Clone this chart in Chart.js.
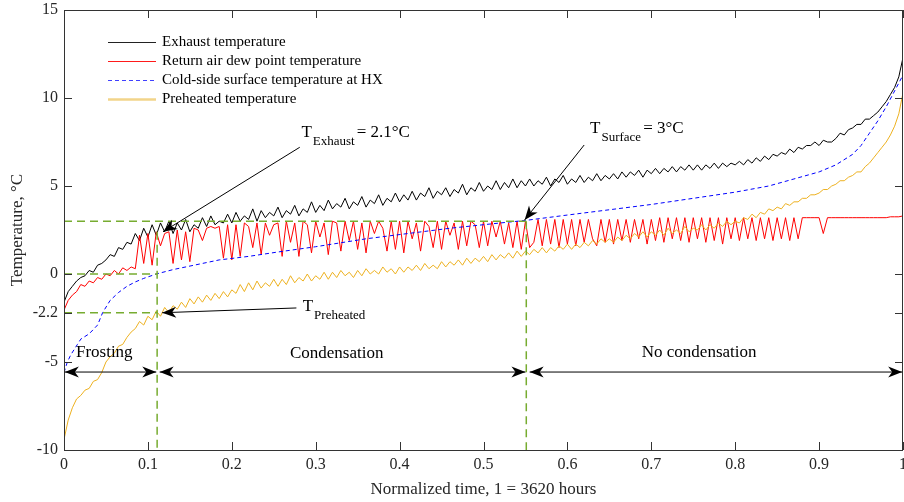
<!DOCTYPE html>
<html><head><meta charset="utf-8">
<script src="https://cdn.jsdelivr.net/npm/chart.js@4.4.1/dist/chart.umd.min.js"></script>
<style>html,body{margin:0;padding:0;background:#fff;overflow:hidden}canvas{display:block}</style>
</head><body>
<canvas id="c" width="904" height="502"></canvas>
<script>
// ---------- data ----------
const timeStep = 0.005; // sample spacing of the three noisy series (normalized time)
const exhaustTemp = [
 -1.6,-1.0,-0.7,-0.4,-0.2,-0.1,0.2,0.1,0.5,0.6,
 0.8,1.1,1.0,1.5,1.4,1.8,1.7,2.3,1.9,2.6,
 2.1,2.8,2.2,2.9,2.4,3.0,2.3,2.9,2.5,3.1,
 2.4,2.8,2.6,3.2,2.7,3.3,2.8,3.0,2.9,3.4,
 2.9,3.5,3.0,3.3,3.1,3.7,3.0,3.6,3.2,3.5,
 3.3,3.8,3.2,3.6,3.4,3.9,3.3,3.7,3.5,4.1,
 3.5,3.9,3.6,4.2,3.7,4.0,3.8,4.3,3.7,4.1,
 3.9,4.4,3.8,4.2,4.0,4.5,3.9,4.3,4.1,4.6,
 4.1,4.5,4.2,4.7,4.2,4.6,4.4,4.9,4.3,4.7,
 4.5,4.9,4.4,4.8,4.6,5.1,4.5,4.9,4.7,5.2,
 4.7,5.0,4.8,5.3,4.8,5.2,4.9,5.4,4.9,5.3,
 5.0,5.4,5.0,5.3,5.1,5.5,5.0,5.4,5.2,5.6,
 5.1,5.4,5.2,5.6,5.2,5.5,5.3,5.7,5.3,5.6,
 5.4,5.7,5.4,5.8,5.5,5.8,5.6,5.9,5.5,5.9,
 5.7,6.0,5.7,6.0,5.8,6.1,5.8,6.1,5.9,6.2,
 5.9,6.2,5.9,6.2,6.0,6.3,6.0,6.3,6.1,6.3,
 6.2,6.4,6.2,6.5,6.3,6.6,6.4,6.7,6.5,6.8,
 6.7,6.9,6.8,7.1,6.9,7.2,7.1,7.3,7.3,7.5,
 7.3,7.6,7.5,7.5,7.7,8.0,7.9,8.2,8.3,8.5,
 8.5,8.8,8.8,9.0,9.2,9.5,9.8,10.2,10.6,11.2,
 12.3];
const dewPointTemp = [
 -2.05,-1.5,-1.2,-1.0,-0.6,-0.7,-0.4,-0.5,-0.2,-0.3,
 0.0,-0.1,0.2,0.0,0.35,0.2,0.4,0.3,2.2,0.6,
 2.3,0.5,2.4,1.6,2.3,2.4,0.6,2.5,0.8,2.4,
 0.7,2.6,2.5,1.9,2.6,2.7,2.6,2.7,0.9,2.8,
 0.8,2.8,1.0,2.9,2.7,1.5,2.9,1.1,2.9,2.2,
 2.8,2.9,1.0,3.0,1.8,2.9,1.0,3.0,2.8,1.2,
 3.0,2.1,2.9,1.1,3.0,2.9,1.3,3.0,1.9,3.0,
 1.4,2.9,1.2,3.0,2.3,3.0,2.6,1.3,3.0,1.4,
 3.0,1.2,3.0,2.0,2.9,1.3,3.0,2.7,1.5,3.0,
 1.4,3.0,2.2,2.9,1.4,3.0,1.6,3.0,2.8,1.5,
 3.0,1.6,3.0,2.1,3.0,1.7,2.9,1.5,3.0,1.4,
 3.0,1.5,1.8,3.1,1.6,3.1,1.7,3.1,1.5,3.1,
 1.7,3.1,1.6,3.1,1.8,3.1,2.0,1.6,3.1,1.8,
 3.1,1.7,3.1,1.9,3.1,1.8,3.1,2.0,3.1,1.7,
 3.1,1.9,3.2,1.8,3.2,2.0,3.2,1.9,3.2,1.8,
 3.2,2.0,3.2,1.8,3.2,1.9,3.2,1.7,3.2,2.0,
 3.2,1.9,3.2,2.0,3.2,1.9,3.2,2.0,3.2,1.9,
 3.2,2.0,3.2,1.9,3.2,2.0,3.2,3.2,3.2,3.2,
 3.2,2.3,3.2,3.2,3.2,3.2,3.2,3.2,3.2,3.2,
 3.2,3.2,3.2,3.2,3.2,3.2,3.2,3.25,3.25,3.25,
 3.3];
const preheatedTemp = [
 -9.4,-8.3,-7.6,-7.1,-6.9,-6.6,-6.5,-6.1,-6.0,-5.6,
 -5.0,-4.7,-4.5,-4.1,-4.0,-3.6,-3.3,-3.1,-2.7,-2.9,
 -2.4,-2.6,-2.1,-2.4,-1.9,-2.2,-1.8,-2.0,-1.6,-1.9,
 -1.4,-1.7,-1.3,-1.6,-1.2,-1.5,-1.1,-1.4,-1.0,-1.3,
 -0.9,-1.1,-0.6,-1.0,-0.5,-0.9,-0.4,-0.8,-0.5,-0.7,
 -0.3,-0.7,-0.3,-0.6,-0.1,-0.5,-0.2,-0.4,0.0,-0.4,
 -0.1,-0.3,0.1,-0.3,0.1,-0.2,0.2,-0.1,0.1,-0.2,
 0.2,-0.1,0.3,0.0,0.2,0.0,0.4,0.1,0.3,0.0,
 0.4,0.1,0.4,0.2,0.5,0.2,0.6,0.3,0.5,0.3,
 0.7,0.4,0.7,0.5,0.8,0.5,0.9,0.6,0.9,0.7,
 1.0,0.7,1.1,0.8,1.1,0.9,1.2,0.9,1.3,1.0,
 1.3,1.1,1.4,1.2,1.5,1.2,1.5,1.3,1.6,1.4,
 1.7,1.4,1.7,1.5,1.8,1.6,1.9,1.7,2.0,1.8,
 2.0,1.8,2.1,1.9,2.2,2.0,2.3,2.1,2.4,2.1,
 2.4,2.2,2.5,2.2,2.6,2.3,2.5,2.3,2.7,2.4,
 2.6,2.5,2.8,2.5,2.8,2.6,2.9,2.7,3.0,2.8,
 3.0,2.9,3.2,3.1,3.4,3.2,3.5,3.4,3.7,3.6,
 3.8,3.7,4.0,3.9,4.1,4.1,4.3,4.3,4.5,4.5,
 4.6,4.8,4.8,5.0,5.1,5.3,5.3,5.5,5.6,5.8,
 5.8,6.1,6.3,6.6,6.9,7.2,7.5,7.9,8.4,9.1,
 10.3];
const surfaceTime = [0,0.004,0.008,0.012,0.016,0.02,0.03,0.04,0.046,0.055,0.065,0.075,0.085,0.095,0.11,0.13,0.155,0.185,0.22,0.255,0.3,0.36,0.41,0.46,0.51,0.551,0.6,0.65,0.7,0.75,0.8,0.84,0.87,0.9,0.92,0.94,0.95,0.96,0.97,0.98,0.99,1.0];
const surfaceTemp = [-5.6,-5.0,-4.6,-4.3,-4.0,-3.7,-3.4,-2.9,-2.2,-1.5,-1.05,-0.7,-0.45,-0.25,0.0,0.25,0.5,0.8,1.0,1.25,1.55,2.0,2.3,2.6,2.85,3.05,3.35,3.65,3.95,4.3,4.65,5.0,5.4,5.8,6.2,6.8,7.3,8.0,8.7,9.5,10.4,11.3];
const seriesNames = ['Exhaust temperature','Return air dew point temperature','Cold-side surface temperature at HX','Preheated temperature'];
const xTickValues = [0,0.1,0.2,0.3,0.4,0.5,0.6,0.7,0.8,0.9,1];
const yTickValues = [-10,-5,-2.2,0,5,10,15];
// phase boundaries (normalized time) and reference temperatures
const frostEnd = 0.111, condensationEnd = 0.551;
const tExhaustRef = 3, tZeroRef = 0, tPreheatedRef = -2.2;
const phaseNames = ['Frosting','Condensation','No condensation'];

// ---------- chart ----------
const FAMILY = "'Liberation Serif','DejaVu Serif',serif";
Chart.defaults.font.family = FAMILY;
Chart.defaults.color = '#262626';

const seriesColors = ['#000000', '#FF0000', '#0000FF', '#EDB120'];
const legendStyles = [
  {color: '#222222', width: 1, dash: []},
  {color: '#FF1A1A', width: 1.2, dash: []},
  {color: '#4040FF', width: 1, dash: [4, 3]},
  {color: '#F2D48A', width: 2.5, dash: []}
];

const toPts = (arr) => arr.map((v, i) => ({x: i * timeStep, y: v}));
const surfacePts = surfaceTemp.map((v, i) => ({x: surfaceTime[i], y: v}));

function arrowHead(ctx, fx, fy, tx, ty) {
  const L = 14, H = 5.5, N = 4;
  const a = Math.atan2(ty - fy, tx - fx), ux = Math.cos(a), uy = Math.sin(a);
  const px = -uy, py = ux;
  const bx = tx - ux * L, by = ty - uy * L;
  ctx.beginPath();
  ctx.moveTo(tx, ty);
  ctx.lineTo(bx + px * H, by + py * H);
  ctx.lineTo(tx - ux * (L - N), ty - uy * (L - N));
  ctx.lineTo(bx - px * H, by - py * H);
  ctx.closePath();
  ctx.fill();
}
function arrow(ctx, fx, fy, tx, ty, both) {
  ctx.beginPath(); ctx.moveTo(fx, fy); ctx.lineTo(tx, ty); ctx.stroke();
  arrowHead(ctx, fx, fy, tx, ty);
  if (both) arrowHead(ctx, tx, ty, fx, fy);
}
function subLabel(ctx, x, y, main, sub, rest) {
  ctx.textAlign = 'left'; ctx.textBaseline = 'alphabetic';
  ctx.font = '17px ' + FAMILY; ctx.fillText(main, x, y);
  const w = ctx.measureText(main).width;
  ctx.font = '13px ' + FAMILY; ctx.fillText(sub, x + w + 1, y + 8);
  const w2 = ctx.measureText(sub).width;
  if (rest) { ctx.font = '17px ' + FAMILY; ctx.fillText(rest, x + w + w2 + 3, y); }
}

const overlay = {
  id: 'overlay',
  afterDatasetsDraw(chart) {
    const {ctx, chartArea: a, scales: {x, y}} = chart;
    const X = v => x.getPixelForValue(v), Y = v => y.getPixelForValue(v);
    ctx.save();
    // green guide lines
    ctx.strokeStyle = '#77AC30'; ctx.lineWidth = 1.5; ctx.setLineDash([8, 5]);
    const guides = [
      [0, tExhaustRef, condensationEnd, tExhaustRef],
      [0, tZeroRef, frostEnd, tZeroRef],
      [0, tPreheatedRef, frostEnd, tPreheatedRef],
      [frostEnd, 2.4, frostEnd, -10],
      [condensationEnd, tExhaustRef, condensationEnd, -10]
    ];
    guides.forEach(g => { ctx.beginPath(); ctx.moveTo(X(g[0]), Y(g[1])); ctx.lineTo(X(g[2]), Y(g[3])); ctx.stroke(); });
    ctx.setLineDash([]);
    // box + inward ticks
    ctx.strokeStyle = '#333'; ctx.lineWidth = 1;
    ctx.strokeRect(Math.round(a.left) + 0.5, Math.round(a.top) + 0.5, Math.round(a.right - a.left) - 1, Math.round(a.bottom - a.top));
    ctx.beginPath();
    xTickValues.forEach(v => {
      const p = Math.round(X(v)) + 0.5;
      ctx.moveTo(p, a.bottom); ctx.lineTo(p, a.bottom - 8);
      ctx.moveTo(p, a.top); ctx.lineTo(p, a.top + 8);
    });
    yTickValues.forEach(v => {
      const p = Math.round(Y(v)) + 0.5;
      ctx.moveTo(a.left, p); ctx.lineTo(a.left + 8, p);
      ctx.moveTo(a.right, p); ctx.lineTo(a.right - 8, p);
    });
    ctx.stroke();
    // arrows
    ctx.strokeStyle = '#000'; ctx.fillStyle = '#000'; ctx.lineWidth = 1;
    arrow(ctx, X(0.281), Y(7.2), X(0.118), Y(2.4));
    arrow(ctx, X(0.620), Y(7.33), X(0.549), Y(3.07));
    arrow(ctx, X(0.277), Y(-1.93), X(0.117), Y(-2.2));
    const ya = Y(-5.57);
    arrow(ctx, X(0.001), ya, X(0.110), ya, true);
    arrow(ctx, X(0.114), ya, X(0.550), ya, true);
    arrow(ctx, X(0.555), ya, X(0.999), ya, true);
    // annotation text
    ctx.fillStyle = '#000';
    subLabel(ctx, X(0.283), Y(7.78), 'T', 'Exhaust', '= 2.1°C');
    subLabel(ctx, X(0.627), Y(8.01), 'T', 'Surface', '= 3°C');
    subLabel(ctx, X(0.2845), Y(-2.1), 'T', 'Preheated', '');
    ctx.font = '17px ' + FAMILY; ctx.textAlign = 'center'; ctx.textBaseline = 'alphabetic';
    ctx.fillText(phaseNames[0], X(0.048), Y(-4.72));
    ctx.fillText(phaseNames[1], X(0.325), Y(-4.77));
    ctx.fillText(phaseNames[2], X(0.757), Y(-4.72));
    // legend
    ctx.font = '15px ' + FAMILY; ctx.textAlign = 'left'; ctx.textBaseline = 'middle';
    seriesNames.forEach((name, i) => {
      const st = legendStyles[i];
      const ly = Math.round(a.top + 32 + i * 19) + 0.5;
      ctx.save();
      ctx.strokeStyle = st.color;
      ctx.lineWidth = st.width;
      ctx.setLineDash(st.dash);
      ctx.beginPath(); ctx.moveTo(a.left + 44, ly); ctx.lineTo(a.left + 92, ly); ctx.stroke();
      ctx.restore();
      ctx.fillStyle = '#000';
      ctx.fillText(name, a.left + 98, ly);
    });
    ctx.restore();
  }
};

new Chart(document.getElementById('c'), {
  type: 'line',
  data: {
    datasets: [
      {label: seriesNames[0], data: toPts(exhaustTemp), borderColor: seriesColors[0], borderWidth: 1, order: 4},
      {label: seriesNames[1], data: toPts(dewPointTemp), borderColor: seriesColors[1], borderWidth: 1, order: 3},
      {label: seriesNames[2], data: surfacePts, borderColor: seriesColors[2], borderWidth: 1, borderDash: [4, 3], order: 2},
      {label: seriesNames[3], data: toPts(preheatedTemp), borderColor: seriesColors[3], borderWidth: 1, order: 1}
    ]
  },
  options: {
    responsive: false, animation: false, devicePixelRatio: 1,
    layout: {padding: {top: 10, right: 1, left: 0, bottom: 0}},
    plugins: {legend: {display: false}, tooltip: {enabled: false}},
    elements: {point: {radius: 0}, line: {tension: 0, borderWidth: 1, fill: false}},
    scales: {
      x: {
        type: 'linear', min: 0, max: 1,
        afterBuildTicks(s) { s.ticks = xTickValues.map(v => ({value: v})); },
        afterFit(s) { s.height = 52; s.paddingLeft = 0; s.paddingRight = 0; },
        grid: {display: false, drawTicks: false}, border: {display: false},
        ticks: {padding: 5, color: '#262626', font: {size: 16}, maxRotation: 0, autoSkip: false, callback: v => String(v)},
        title: {display: true, text: 'Normalized time, 1 = 3620 hours', color: '#262626', font: {size: 17}, padding: {top: 0, bottom: 2}}
      },
      y: {
        type: 'linear', min: -10, max: 15,
        afterBuildTicks(s) { s.ticks = yTickValues.map(v => ({value: v})); },
        afterFit(s) { s.width = 64; s.paddingTop = 0; s.paddingBottom = 0; },
        grid: {display: false, drawTicks: false}, border: {display: false},
        ticks: {padding: 6, color: '#262626', font: {size: 16}, autoSkip: false, callback: v => String(v)},
        title: {display: true, text: 'Temperature, °C', color: '#262626', font: {size: 17}, padding: {top: 7, bottom: 0}}
      }
    }
  },
  plugins: [overlay]
});
</script>
</body></html>
